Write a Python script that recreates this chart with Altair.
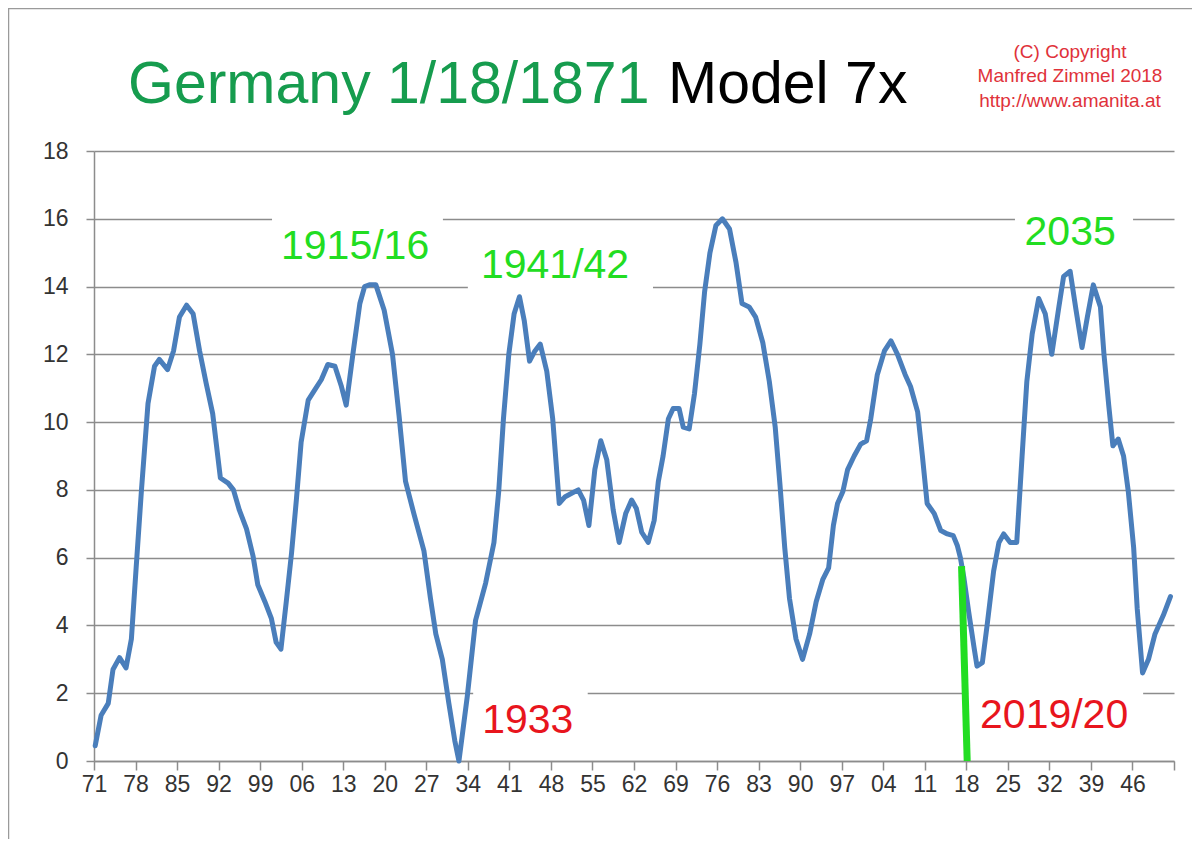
import altair as alt
import pandas as pd

# ---- series (year, index value) ----
years = [1871.2, 1872.2, 1873.4, 1874.2, 1875.3, 1876.4, 1877.3, 1878.1, 1879.0, 1880.1,
         1881.2, 1882.0, 1883.4, 1884.4, 1885.4, 1886.6, 1887.7, 1888.8, 1889.9, 1891.0,
         1892.3, 1893.6, 1894.5, 1895.5, 1896.7, 1897.8, 1898.6, 1899.8, 1900.9, 1901.7,
         1902.5, 1903.4, 1904.3, 1905.1, 1905.9, 1907.1, 1908.2, 1909.3, 1910.4, 1911.6,
         1912.7, 1913.5, 1914.7, 1915.8, 1916.6, 1917.4, 1918.5, 1919.9, 1921.3, 1922.4,
         1923.5, 1924.9, 1926.6, 1927.7, 1928.6, 1929.7, 1930.8, 1931.8, 1932.5, 1933.9,
         1935.3, 1937.0, 1938.4, 1939.2, 1940.0, 1940.9, 1941.8, 1942.7, 1943.5, 1944.4,
         1945.3, 1946.2, 1947.3, 1948.3, 1949.4, 1950.4, 1951.5, 1952.6, 1953.5, 1954.4,
         1955.4, 1956.4, 1957.4, 1958.5, 1959.5, 1960.6, 1961.6, 1962.4, 1963.3, 1964.4,
         1965.4, 1966.1, 1966.9, 1967.8, 1968.6, 1969.6, 1970.3, 1971.3, 1972.2, 1973.1,
         1973.9, 1974.8, 1975.8, 1976.9, 1978.1, 1979.2, 1980.2, 1981.4, 1982.5, 1983.7,
         1984.8, 1985.8, 1986.6, 1987.4, 1988.2, 1989.3, 1990.4, 1991.6, 1992.7, 1993.8,
         1994.8, 1995.6, 1996.3, 1997.2, 1998.0, 1999.1, 2000.2, 2001.2, 2001.9, 2003.0,
         2004.2, 2005.3, 2006.4, 2007.7, 2008.6, 2009.8, 2010.6, 2011.4, 2012.6, 2013.7,
         2014.8, 2015.8, 2016.5, 2017.0, 2017.6, 2018.4, 2019.3, 2019.8, 2020.7, 2021.5,
         2022.6, 2023.5, 2024.3, 2025.4, 2026.5, 2027.4, 2028.2, 2029.1, 2030.2, 2031.3,
         2032.4, 2033.6, 2034.4, 2035.5, 2036.5, 2037.5, 2038.4, 2039.4, 2040.6, 2041.2,
         2042.0, 2042.7, 2043.6, 2044.5, 2045.3, 2046.2, 2046.8, 2047.7, 2048.7, 2049.8,
         2051.2, 2052.4]
values = [0.45, 1.35, 1.7, 2.7, 3.05, 2.75, 3.6, 5.7, 8.0, 10.55,
          11.65, 11.85, 11.55, 12.1, 13.1, 13.45, 13.2, 12.1, 11.15, 10.25,
          8.35, 8.2, 8.0, 7.4, 6.85, 6.05, 5.2, 4.7, 4.2, 3.5,
          3.3, 4.7, 6.15, 7.7, 9.4, 10.65, 10.95, 11.25, 11.7, 11.65,
          11.05, 10.5, 12.1, 13.5, 14.0, 14.05, 14.05, 13.3, 12.0, 10.2,
          8.25, 7.3, 6.2, 4.8, 3.75, 3.0, 1.7, 0.6, 0.0, 1.9,
          4.15, 5.25, 6.45, 7.95, 10.1, 12.0, 13.2, 13.7, 13.0, 11.8,
          12.1, 12.3, 11.5, 10.1, 7.6, 7.8, 7.9, 8.0, 7.7, 6.95,
          8.6, 9.45, 8.9, 7.4, 6.45, 7.3, 7.7, 7.45, 6.75, 6.45,
          7.1, 8.25, 9.0, 10.1, 10.4, 10.4, 9.85, 9.8, 10.85, 12.3,
          13.85, 15.0, 15.8, 16.0, 15.7, 14.7, 13.5, 13.4, 13.1, 12.35,
          11.2, 9.85, 8.15, 6.3, 4.8, 3.6, 3.0, 3.75, 4.7, 5.35,
          5.7, 6.95, 7.6, 7.95, 8.6, 9.0, 9.35, 9.45, 10.1, 11.4,
          12.1, 12.4, 12.0, 11.4, 11.05, 10.3, 9.0, 7.6, 7.3, 6.8,
          6.7, 6.65, 6.35, 6.0, 5.4, 4.4, 3.35, 2.8, 2.9, 4.0,
          5.6, 6.45, 6.7, 6.45, 6.45, 9.0, 11.2, 12.6, 13.65, 13.2,
          12.0, 13.4, 14.3, 14.45, 13.3, 12.2, 13.1, 14.05, 13.4, 12.0,
          10.5, 9.3, 9.5, 9.0, 7.95, 6.3, 4.5, 2.6, 3.0, 3.75,
          4.3, 4.85]

# ---- "now" marker (green bar) ----
marker_year = [2017.2]
marker_year_end = [2018.15]
marker_value = [5.75]
marker_value_end = [0.0]

# ---- annotations ----
note_text = ["1915/16", "1941/42", "2035", "1933", "2019/20"]
note_kind = ["peak", "peak", "peak", "trough", "trough"]
note_year = [1915.0, 1948.7, 2035.5, 1944.1, 2032.8]
note_value = [15.17, 14.61, 15.58, 1.18, 1.33]
# white backing boxes of the annotations (data units)
box_year0 = [1901.0, 1934.0, 2026.2, 1934.9, 2018.3]
box_year1 = [1929.8, 1965.2, 2046.1, 1954.2, 2047.8]
box_value0 = [14.19, 13.84, 14.72, 0.38, 0.38]
box_value1 = [16.26, 15.52, 16.41, 2.24, 2.24]

title_green = "Germany 1/18/1871"
title_black = "Model 7x"
copyright_lines = ["(C) Copyright", "Manfred Zimmel  2018", "http://www.amanita.at"]

x_ticks = list(range(1871, 2054, 7))
y_ticks = list(range(0, 19, 2))

FONT = "Liberation Sans"
GRID = "#8c8c8c"
LABEL = "#333333"
BLUE = "#4a7ebb"
BRIGHT_GREEN = "#22dd22"
RED = "#e8151d"

series = pd.DataFrame({"year": years, "value": values})
notes = pd.DataFrame({"text": note_text, "kind": note_kind, "year": note_year, "value": note_value})
boxes = pd.DataFrame({"y0": box_year0, "y1": box_year1, "v0": box_value0, "v1": box_value1})
marker = pd.DataFrame({"y0": marker_year, "y1": marker_year_end, "v0": marker_value, "v1": marker_value_end})
one = pd.DataFrame({"k": [0]})

xscale = alt.Scale(domain=[1871, 2053], nice=False, zero=False)
yscale = alt.Scale(domain=[0, 18], nice=False, zero=True)

xaxis = alt.Axis(values=x_ticks, labelExpr="datum.value >= 2053 ? '' : substring(toString(datum.value), 2, 4)",
                 grid=False, tickSize=9, tickColor=GRID, tickWidth=1.5, domainColor=GRID, domainWidth=1.5,
                 labelFont=FONT, labelFontSize=23, labelColor=LABEL, labelPadding=3,
                 labelOverlap=False, labelFlush=False, title=None)
yaxis = alt.Axis(values=y_ticks, grid=True, gridColor=GRID, gridWidth=1.5,
                 tickSize=8, tickColor=GRID, tickWidth=1.5, domainColor=GRID, domainWidth=1.5,
                 labelFont=FONT, labelFontSize=23, labelColor=LABEL, labelPadding=18, title=None)

box_layer = alt.Chart(boxes).mark_rect(fill="white", strokeWidth=0).encode(
    x=alt.X("y0:Q", scale=xscale, axis=xaxis),
    x2="y1:Q",
    y=alt.Y("v0:Q", scale=yscale, axis=yaxis),
    y2="v1:Q",
)

line_layer = alt.Chart(series).mark_line(color=BLUE, strokeWidth=5, strokeJoin="round", strokeCap="round").encode(
    x=alt.X("year:Q", scale=xscale),
    y=alt.Y("value:Q", scale=yscale),
)

marker_layer = alt.Chart(marker).mark_rule(color=BRIGHT_GREEN, strokeWidth=7).encode(
    x=alt.X("y0:Q", scale=xscale), x2="y1:Q",
    y=alt.Y("v0:Q", scale=yscale), y2="v1:Q",
)

note_layer = alt.Chart(notes).mark_text(font=FONT, fontSize=41, baseline="middle", align="center").encode(
    x=alt.X("year:Q", scale=xscale),
    y=alt.Y("value:Q", scale=yscale),
    text="text:N",
    color=alt.Color("kind:N", scale=alt.Scale(domain=["peak", "trough"], range=[BRIGHT_GREEN, RED]), legend=None),
)

title1 = alt.Chart(one).mark_text(text=title_green, font=FONT, fontSize=59, color="#169c4e",
                                  align="left", baseline="alphabetic").encode(
    x=alt.value(34), y=alt.value(-48))
title2 = alt.Chart(one).mark_text(text=title_black, font=FONT, fontSize=59, color="#000000",
                                  align="left", baseline="alphabetic").encode(
    x=alt.value(574), y=alt.value(-48))

cr_layers = []
for line_text, line_y in zip(copyright_lines, [-99, -75, -50]):
    cr_layers.append(
        alt.Chart(one).mark_text(text=line_text, font=FONT, fontSize=19, color="#e0323a",
                                 align="center", baseline="middle").encode(
            x=alt.value(976), y=alt.value(line_y))
    )

frame = alt.Chart(one).mark_rect(fillOpacity=0, stroke="#9a9a9a", strokeWidth=1.5).encode(
    x=alt.value(-85.5), x2=alt.value(1102.5), y=alt.value(-142.5), y2=alt.value(760))

chart = alt.layer(box_layer, line_layer, marker_layer, note_layer, title1, title2, *cr_layers, frame).properties(
    width=1080, height=610,
    padding={"left": 86, "top": 143, "right": 18, "bottom": 78},
    autosize=alt.AutoSizeParams(type="none"),
    background="white",
).configure_view(stroke=None)

chart.save("out.html", embed_options={"renderer": "svg", "actions": False})
